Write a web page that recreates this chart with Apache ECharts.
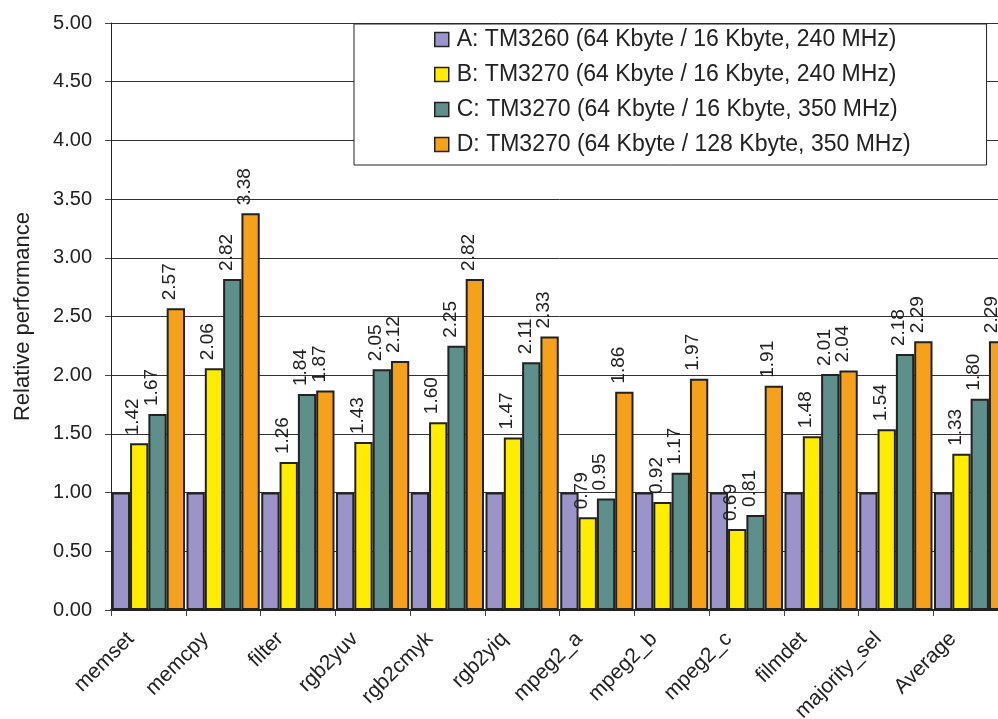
<!DOCTYPE html>
<html>
<head>
<meta charset="utf-8">
<script src="https://cdn.jsdelivr.net/npm/echarts@6/dist/echarts.min.js"></script>
<style>
  html, body { margin: 0; padding: 0; background: #fff; overflow: hidden; }
  /* the plot runs past the right edge of the window, as in the original */
  #chart { width: 1012px; height: 719px; }
</style>
</head>
<body>
<div id="chart"></div>
<script>
// benchmark names along the x axis
var categories = ['memset', 'memcpy', 'filter', 'rgb2yuv', 'rgb2cmyk', 'rgb2yiq',
    'mpeg2_a', 'mpeg2_b', 'mpeg2_c', 'filmdet', 'majority_sel', 'Average'];

var seriesNames = [
    'A: TM3260 (64 Kbyte / 16 Kbyte, 240 MHz)',
    'B: TM3270 (64 Kbyte / 16 Kbyte, 240 MHz)',
    'C: TM3270 (64 Kbyte / 16 Kbyte, 350 MHz)',
    'D: TM3270 (64 Kbyte / 128 Kbyte, 350 MHz)'
];

var valuesA = [1.00, 1.00, 1.00, 1.00, 1.00, 1.00, 1.00, 1.00, 1.00, 1.00, 1.00, 1.00];
var valuesB = [1.42, 2.06, 1.26, 1.43, 1.60, 1.47, 0.79, 0.92, 0.69, 1.48, 1.54, 1.33];
var valuesC = [1.67, 2.82, 1.84, 2.05, 2.25, 2.11, 0.95, 1.17, 0.81, 2.01, 2.18, 1.80];
var valuesD = [2.57, 3.38, 1.87, 2.12, 2.82, 2.33, 1.86, 1.97, 1.91, 2.04, 2.29, 2.29];

var yTicks = [0, 0.5, 1, 1.5, 2, 2.5, 3, 3.5, 4, 4.5, 5];

var colors = ['#9b94c9', '#ffec00', '#5f8f8a', '#f6a11b'];
var fontFam = '"Liberation Sans", Arial, sans-serif';

function makeSeries(idx, data, showLabel) {
    return {
        name: seriesNames[idx],
        type: 'bar',
        data: data,
        barGap: '0%',
        barCategoryGap: '2%',
        itemStyle: {
            color: colors[idx],
            borderColor: '#222',
            borderWidth: 2
        },
        label: {
            show: showLabel,
            position: 'top',
            rotate: 90,
            align: 'left',
            verticalAlign: 'middle',
            distance: 8,
            offset: [0, -6],
            fontSize: 19,
            fontFamily: fontFam,
            color: '#222',
            formatter: function (p) { return p.value.toFixed(2); }
        },
        emphasis: { disabled: true }
    };
}

var dom = document.getElementById('chart');
var myChart = echarts.init(dom);
var option = {
    animation: false,
    textStyle: { fontFamily: fontFam },
    grid: { left: 111, top: 23, width: 897, bottom: 109, outerBoundsMode: 'none', containLabel: false },
    legend: {
        orient: 'vertical',
        left: 354,
        top: 24,
        padding: [4, 76, 9, 80],
        itemGap: 12,
        itemWidth: 14,
        itemHeight: 14,
        icon: 'rect',
        backgroundColor: '#fff',
        borderColor: '#222',
        borderWidth: 1,
        itemStyle: { borderColor: '#222', borderWidth: 1.5 },
        textStyle: { fontSize: 23, color: '#222', fontFamily: fontFam, lineHeight: 23, padding: [0, 0, 0, 3] },
        data: seriesNames
    },
    xAxis: {
        type: 'category',
        data: categories,
        axisLine: { lineStyle: { color: '#222', width: 2 } },
        axisTick: { show: true, length: 6, lineStyle: { color: '#444' } },
        axisLabel: {
            rotate: 45,
            interval: 0,
            fontSize: 21,
            color: '#222',
            fontFamily: fontFam,
            margin: 8,
            padding: [0, 25, 0, 0]
        }
    },
    yAxis: {
        type: 'value',
        min: yTicks[0],
        max: yTicks[yTicks.length - 1],
        interval: 0.5,
        name: 'Relative performance',
        nameLocation: 'middle',
        nameRotate: 90,
        nameGap: 77,
        nameTextStyle: { fontSize: 22, color: '#222', fontFamily: fontFam },
        axisLine: { show: true, lineStyle: { color: '#222', width: 1 } },
        axisTick: { show: true, length: 6, lineStyle: { color: '#444' } },
        splitLine: { show: true, lineStyle: { color: '#333', width: 1 } },
        axisLabel: {
            fontSize: 20,
            color: '#222',
            fontFamily: fontFam,
            margin: 19,
            formatter: function (v) { return v.toFixed(2); }
        }
    },
    series: [
        makeSeries(0, valuesA, false),
        makeSeries(1, valuesB, true),
        makeSeries(2, valuesC, true),
        makeSeries(3, valuesD, true)
    ]
};
myChart.setOption(option, true);
</script>
</body>
</html>
